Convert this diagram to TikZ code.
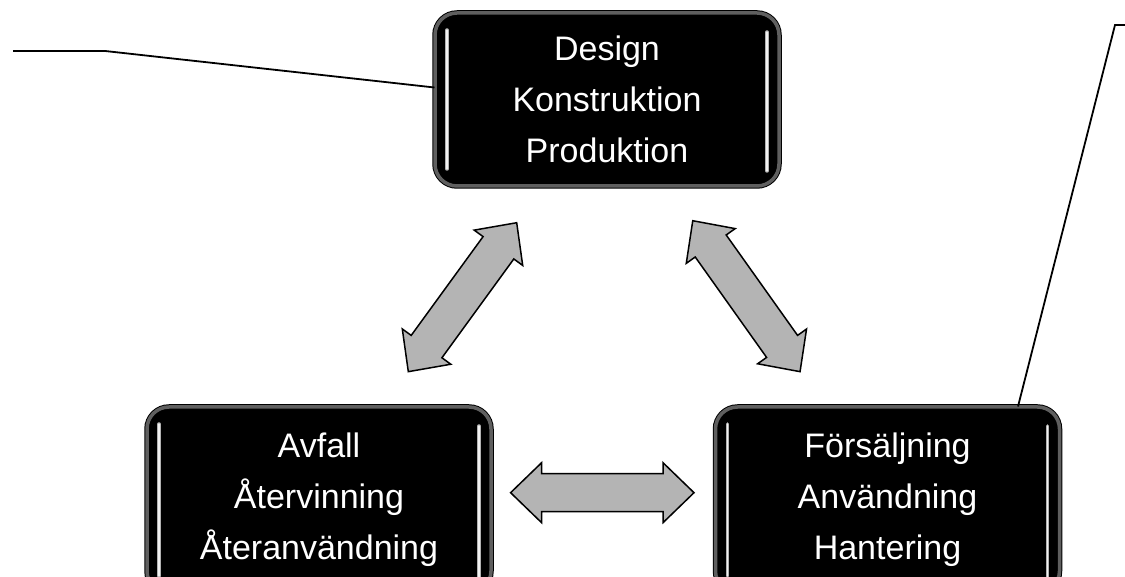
\documentclass[tikz,border=0pt]{standalone}
\usepackage{fontspec}
\setmainfont{Liberation Sans}
\usepackage{tikz}
\usetikzlibrary{positioning,calc}
\definecolor{arrowgray}{RGB}{180,180,180}
\definecolor{ringgray}{RGB}{95,95,95}

\begin{document}
\begin{tikzpicture}[x=1pt,y=1pt,
    stage/.style={fill=black, draw=black, line width=1pt,
      double=ringgray, double distance=3.5pt, rounded corners=22pt,
      minimum width=344pt, text=white, align=center, inner sep=0pt,
      font=\fontsize{34}{51}\selectfont,
      path picture={
        \draw[gray!60, line width=3.5pt, line cap=round]
          ([xshift=12pt,yshift=-17pt]path picture bounding box.north west) --
          ([xshift=12pt,yshift=17pt]path picture bounding box.south west);
        \draw[gray!60, line width=3.5pt, line cap=round]
          ([xshift=-12pt,yshift=-19pt]path picture bounding box.north east) --
          ([xshift=-12pt,yshift=15pt]path picture bounding box.south east);
        \draw[gray!10, line width=1.2pt, line cap=round]
          ([xshift=12pt,yshift=-17pt]path picture bounding box.north west) --
          ([xshift=12pt,yshift=17pt]path picture bounding box.south west);
        \draw[gray!10, line width=1.2pt, line cap=round]
          ([xshift=-12pt,yshift=-19pt]path picture bounding box.north east) --
          ([xshift=-12pt,yshift=15pt]path picture bounding box.south east);
      }},
    leader/.style={line width=1.8pt},
    arrowbody/.style={fill=arrowgray, draw=black, line width=1.5pt, line join=miter},
    biarrow/.pic={
      \draw[arrowbody] (-#1,0) -- (-#1+31,30) -- (-#1+31,19) -- (#1-31,19)
        -- (#1-31,30) -- (#1,0) -- (#1-31,-30) -- (#1-31,-19)
        -- (-#1+31,-19) -- (-#1+31,-30) -- cycle;
    }]
  \useasboundingbox (0,0) rectangle (1125,577);
  \clip (0,0) rectangle (1125,577);

  % the three stages
  \node[stage, minimum height=173pt] (design) at (607,477.5)
    {Design\\Konstruktion\\Produktion};
  \node[stage, minimum height=186pt] (waste) at (319,77)
    {Avfall\\Återvinning\\Återanvändning};
  \node[stage, minimum height=186pt] (sale) at (887.5,77)
    {Försäljning\\Användning\\Hantering};

  % arrows between the stages
  \pic (leftarr) [rotate=53.96] at (462.5,279.8) {biarrow=92.1};
  \pic (rightarr) [rotate=-54.6] at (746.4,280.8) {biarrow=92.6};
  \pic (bottomarr) at (602.3,84.3) {biarrow=91.7};

  % leader lines
  \coordinate (lstart) at (13,526);
  \coordinate (lbend) at (105,526);
  \coordinate (rstart) at (1125,552);
  \coordinate (rbend) at (1115,552);
  \draw[leader] (lstart) -- (lbend) -- ([yshift=12pt]design.west);
  \draw[leader] (rstart) -- (rbend) -- ([xshift=130.5pt]sale.north);
\end{tikzpicture}
\end{document}
